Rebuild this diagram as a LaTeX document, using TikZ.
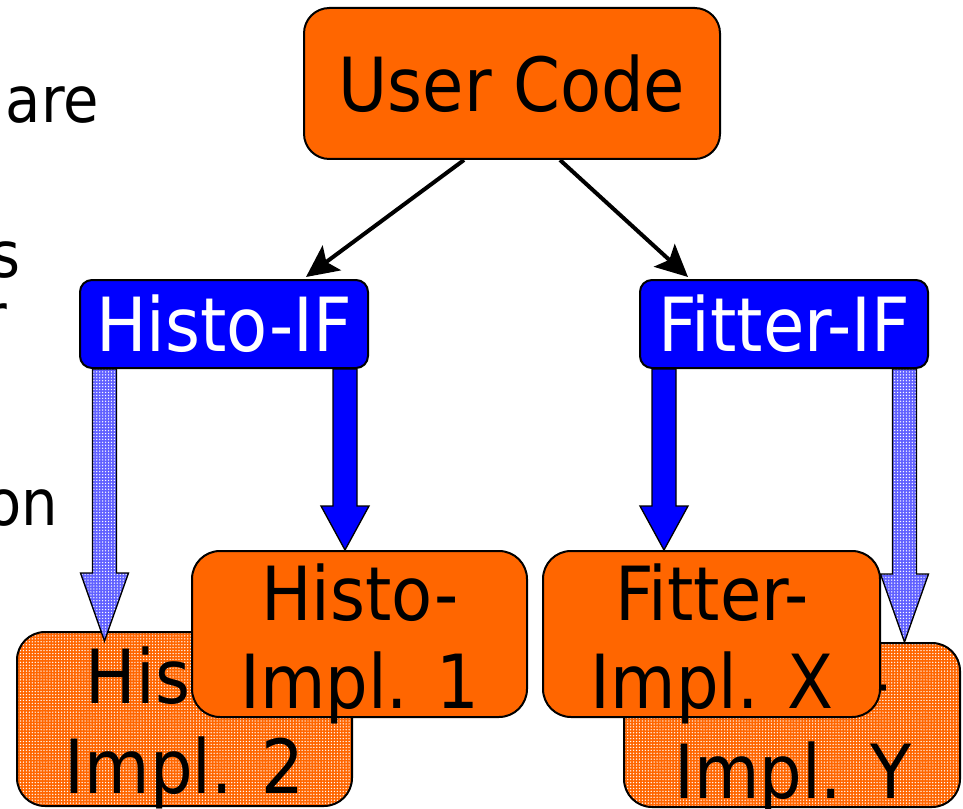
\documentclass[tikz,border=0pt]{standalone}
\usepackage{fontspec}
\setmainfont{DejaVu Sans Condensed}
\usetikzlibrary{calc,arrows.meta,patterns.meta}

\definecolor{implorange}{HTML}{FF6600}
\definecolor{ifblue}{HTML}{0000FF}
\definecolor{altblue}{rgb}{0.38,0.38,1}

\tikzset{
  box/.style={draw=black, line width=1.5pt, inner sep=0pt, fill=implorange},
  ucbox/.style={box, rounded corners=19pt, minimum width=312pt, minimum height=113.25pt,
    font=\fontsize{56}{66}\selectfont},
  ifbox/.style={box, fill=ifblue, text=white, rounded corners=9pt,
    minimum width=216pt, minimum height=66pt, font=\fontsize{56}{66}\selectfont},
  implbox/.style={box, rounded corners=21pt},
  altimpl/.style={implbox, fill=none, preaction={fill=implorange},
    pattern={Dots[distance=2.2pt,radius=0.55pt]}, pattern color=white},
  impltext/.style={anchor=base, inner sep=0pt, font=\fontsize{56}{66}\selectfont},
  sidetext/.style={anchor=base east, inner sep=0pt, font=\fontsize{48}{58}\selectfont},
  conn/.style={line width=3pt, -{Stealth[length=24pt,width=23pt,inset=5pt]}},
  mainarrow/.style={draw=black, line width=1pt, fill=ifblue},
  altarrow/.style={draw=black, line width=1pt, preaction={fill=altblue},
    pattern={Dots[distance=2.2pt,radius=0.55pt]}, pattern color=white},
}

% vertical block arrow: #1 style, #2 point on the start row, #3 tip, #4 head length (px)
\newcommand\blockarrow[4]{%
  \path[#1] let \p1=(#2), \p2=(#3) in
    (\x2-9pt,\y1) -- (\x2-9pt,\y2+#4*0.75pt) -- (\x2-18pt,\y2+#4*0.75pt)
    -- (\x2,\y2) -- (\x2+18pt,\y2+#4*0.75pt) -- (\x2+9pt,\y2+#4*0.75pt)
    -- (\x2+9pt,\y1) -- cycle;
}

\begin{document}
\begin{tikzpicture}[x=0.75pt,y=-0.75pt]
\useasboundingbox (0,0) rectangle (963,809);
\clip (0,0) rectangle (963,809);

% bullet text running in from the left
\node[sidetext] (t1) at (99,123) {are};
\node[sidetext] (t2) at (21,277) {s};
\node[sidetext] (t3) at (7,339) {r};
\node[sidetext] (t4) at (58,525) {on};

% alternative implementations (behind)
\node[altimpl, minimum width=251.25pt, minimum height=130.5pt] (impl2) at (184.5,719) {};
\node[impltext] (impl2a) at (184.5,703) {Histo-};
\node[impltext] (impl2b) at (184.5,793) {Impl. 2};

\node[altimpl, minimum width=252pt, minimum height=123pt] (implY) at (792,725) {};
\node[impltext] (implYa) at (793,708) {Fitter-};
\node[impltext] (implYb) at (793,798) {Impl. Y};

% chosen implementations (front)
\node[implbox, minimum width=251.25pt, minimum height=124.5pt] (impl1) at (359.5,634) {};
\node[impltext] (impl1a) at (360,620) {Histo-};
\node[impltext] (impl1b) at (360,708) {Impl. 1};

\node[implbox, minimum width=252.75pt, minimum height=124.5pt] (implX) at (711.5,634) {};
\node[impltext] (implXa) at (712,620) {Fitter-};
\node[impltext] (implXb) at (712,708) {Impl. X};

% interfaces and user code
\node[ifbox] (histoif) at (224,324) {Histo-IF};
\node[ifbox] (fitterif) at (784,324) {Fitter-IF};
\node[ucbox] (uc) at (512,83.5) {User Code};

% implementation arrows
\blockarrow{altarrow}{histoif.south}{$(impl2.north)+(-80,10)$}{68}
\blockarrow{mainarrow}{histoif.south}{$(impl1.north)+(-14.5,0)$}{44}
\blockarrow{mainarrow}{fitterif.south}{$(implX.north)+(-47.5,0)$}{44}
\blockarrow{altarrow}{fitterif.south}{$(implY.north)+(112.5,0)$}{68}

% user code uses the interfaces
\draw[conn] ($(uc.south)+(-48,0)$) -- ($(histoif.north)+(82,-2)$);
\draw[conn] ($(uc.south)+(48,0)$) -- ($(fitterif.north)+(-96,-2)$);
\end{tikzpicture}
\end{document}
